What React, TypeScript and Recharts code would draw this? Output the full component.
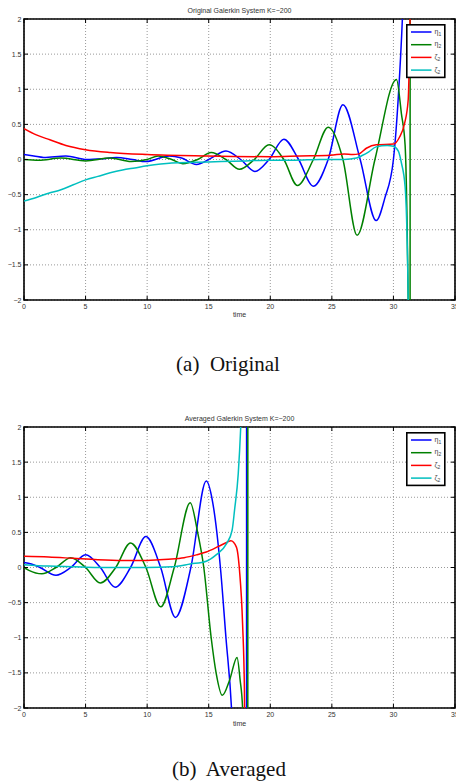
import React from "react";
import {
  LineChart,
  Line,
  XAxis,
  YAxis,
  CartesianGrid,
  ReferenceArea,
  Legend,
} from "recharts";

// axes
const xTicks = [0, 5, 10, 15, 20, 25, 30, 35];
const yTicks = [-2, -1.5, -1, -0.5, 0, 0.5, 1, 1.5, 2];

const seriesSymbols = ["η", "η", "ζ", "ζ"];
const seriesSubs = ["1", "2", "2", "2"];
const seriesColors = ["#0000ff", "#008000", "#ff0000", "#00bfbf"];

// (a) original Galerkin system
const origEta1T = [0, 0.8, 1.6, 3.4, 5.1, 6.3, 7.5, 8.8, 9.9, 11.8, 12.8, 14, 15.2, 16.4, 17.6, 18.75, 19.9, 21.1, 22.3, 23.5, 24.7, 25.9, 27.3, 28.6, 29.3, 30, 30.4, 30.75, 31.1];
const origEta1 = [0.07, 0.05, 0.03, 0.05, 0.0, 0.01, 0.03, 0.0, -0.03, 0.05, 0.02, -0.07, 0.02, 0.12, 0.0, -0.17, 0.0, 0.29, 0.0, -0.38, 0.0, 0.78, 0.0, -0.87, -0.55, 0.0, 0.9, 2.1, 4.0];

const origEta2T = [0, 1.2, 3, 5, 7, 8.7, 10, 10.9, 12, 12.9, 14.1, 15.2, 16.4, 17.5, 18.7, 19.9, 21.1, 22.2, 23.5, 24.7, 25.9, 27.05, 28.5, 30.25, 30.65, 30.95, 31.1, 31.2, 31.26, 31.33, 31.38];
const origEta2 = [0.0, -0.01, 0.02, -0.02, 0.02, -0.03, 0.0, 0.05, 0.0, -0.06, 0.0, 0.1, 0.0, -0.14, 0.0, 0.21, 0.0, -0.37, 0.0, 0.46, 0.0, -1.08, 0.0, 1.14, 0.65, 0.2, -0.8, -2.0, -3.0, -60, 60];

const origZetaT = [0, 1, 2.1, 3.4, 5, 7, 10, 14.8, 20, 22.4, 24.9, 26, 26.7, 27.2, 27.8, 28.6, 30, 30.5, 30.9, 31.2, 31.35, 31.5];
const origZeta = [0.44, 0.35, 0.28, 0.2, 0.14, 0.1, 0.07, 0.05, 0.04, 0.05, 0.06, 0.08, 0.07, 0.08, 0.16, 0.21, 0.22, 0.32, 0.51, 0.85, 2.0, 4.0];

const origXiT = [0, 1, 2, 3, 4, 5, 6, 7, 8, 9, 10, 12, 14, 16, 18, 20, 22, 24, 26, 27, 27.5, 28, 28.6, 29.5, 30, 30.4, 30.65, 30.95, 31.1, 31.2, 31.3];
const origXi = [-0.59, -0.54, -0.48, -0.43, -0.36, -0.29, -0.24, -0.19, -0.15, -0.12, -0.09, -0.05, -0.04, -0.03, -0.02, -0.01, -0.01, 0.0, 0.0, 0.02, 0.06, 0.11, 0.18, 0.2, 0.19, 0.12, -0.05, -0.39, -1.05, -2.0, -4.0];

// (b) averaged Galerkin system
const avgEta1T = [0, 0.6, 1.3, 2.6, 3.8, 5.0, 6.2, 7.4, 8.65, 9.9, 11.1, 12.3, 13.55, 14.8, 15.3, 15.95, 16.4, 16.85, 17.1, 18.05, 18.1];
const avgEta1 = [0.07, 0.05, 0.0, -0.11, 0.0, 0.18, 0.0, -0.28, 0.0, 0.44, 0.0, -0.71, 0.0, 1.23, 0.95, 0.0, -1.0, -2.0, -3.0, -60, 60];

const avgEta2T = [0, 0.4, 1.45, 2.6, 3.8, 5.0, 6.2, 7.45, 8.65, 9.9, 11.1, 12.2, 13.5, 14.1, 14.6, 15.2, 15.6, 16.1, 16.7, 17.3, 17.55, 17.75, 18.0, 18.15, 18.2];
const avgEta2 = [0.0, -0.04, -0.09, 0.0, 0.14, 0.0, -0.22, 0.0, 0.35, 0.0, -0.56, 0.0, 0.92, 0.5, 0.0, -1.0, -1.5, -1.82, -1.6, -1.28, -1.6, -2.0, -10, -60, 60];

const avgZetaT = [0, 2, 4, 6, 8, 10, 11, 12, 13, 14, 14.8, 15.8, 16.5, 16.8, 17.25, 17.5, 17.75, 17.9, 18.0];
const avgZeta = [0.16, 0.15, 0.13, 0.11, 0.1, 0.1, 0.11, 0.12, 0.14, 0.18, 0.22, 0.3, 0.36, 0.38, 0.29, -0.04, -0.8, -1.75, -4.0];

const avgXiT = [0, 2, 4, 6, 8, 10, 12, 13.5, 14.8, 15.6, 16.45, 16.9, 17.1, 17.4, 17.6, 17.8];
const avgXi = [0.04, 0.02, 0.01, 0.0, 0.0, 0.0, 0.01, 0.05, 0.09, 0.18, 0.34, 0.53, 0.82, 1.34, 2.0, 3.0];

const zip = (t: number[], v: number[]) => t.map((x, i) => ({ t: x, v: v[i] }));

const W = 456;
const H = 320;
const PL = 24;
const PR = 455;
const PT = 19;
const PB = 300;
const tickFont = "'Liberation Sans', Arial, sans-serif";

const fmt = (v: number) => String(v).replace("-", "\u2212");

const XTick = (props: any) => {
  const { x, payload } = props;
  return (
    <g>
      <line x1={x} x2={x} y1={PB} y2={PB - 4} stroke="#000" />
      <line x1={x} x2={x} y1={PT} y2={PT + 4} stroke="#000" />
      <text x={x} y={PB + 8.5} textAnchor="middle" fontSize={7} fill="#333" fontFamily={tickFont}>
        {fmt(payload.value)}
      </text>
    </g>
  );
};

const YTick = (props: any) => {
  const { y, payload } = props;
  return (
    <g>
      <line x1={PL} x2={PL + 4} y1={y} y2={y} stroke="#000" />
      <line x1={PR} x2={PR - 4} y1={y} y2={y} stroke="#000" />
      <text x={PL - 2.5} y={y + 2.5} textAnchor="end" fontSize={7} fill="#333" fontFamily={tickFont}>
        {fmt(payload.value)}
      </text>
    </g>
  );
};

const LegendBox = () => (
  <svg width={40} height={55}>
    <rect x={0.8} y={0.8} width={38} height={52.6} fill="#fff" stroke="#000" strokeWidth={1.6} />
    {seriesColors.map((c, i) => {
      const y = 8 + i * 12.7;
      return (
        <g key={i}>
          <line x1={5} x2={25.5} y1={y} y2={y} stroke={c} strokeWidth={1.5} />
          <text x={28.5} y={y + 1.5} fontSize={7} fill="#444" fontFamily={tickFont}>
            {seriesSymbols[i]}
            <tspan fontSize={5} dy={2}>
              {seriesSubs[i]}
            </tspan>
          </text>
        </g>
      );
    })}
  </svg>
);

const GalerkinChart = ({ series }: { series: { t: number; v: number }[][] }) => (
  <LineChart width={W} height={H} margin={{ top: PT, right: W - PR, bottom: H - PB - 1, left: PL - 1 }}>
    <CartesianGrid stroke="#999" strokeDasharray="1 2" />
    <XAxis
      type="number"
      dataKey="t"
      domain={[0, 35]}
      ticks={xTicks}
      interval={0}
      allowDataOverflow
      height={1}
      tickSize={0}
      axisLine={false}
      tickLine={false}
      tick={XTick}
    />
    <YAxis
      type="number"
      domain={[-2, 2]}
      ticks={yTicks}
      interval={0}
      allowDataOverflow
      width={1}
      tickSize={0}
      axisLine={false}
      tickLine={false}
      tick={YTick}
    />
    {series.map((pts, i) => (
      <Line
        key={i}
        data={pts}
        dataKey="v"
        name={seriesSymbols[i] + seriesSubs[i]}
        type="monotone"
        stroke={seriesColors[i]}
        strokeWidth={1.5}
        dot={false}
        isAnimationActive={false}
      />
    ))}
    <ReferenceArea x1={0} x2={35} y1={-2} y2={2} fill="none" stroke="#000" strokeWidth={1.6} />
    <Legend
      layout="vertical"
      align="center"
      verticalAlign="middle"
      wrapperStyle={{ left: 406, top: 24, width: 40, height: 55 }}
      content={LegendBox}
    />
  </LineChart>
);

export default function App() {
  const orig = [zip(origEta1T, origEta1), zip(origEta2T, origEta2), zip(origZetaT, origZeta), zip(origXiT, origXi)];
  const avg = [zip(avgEta1T, avgEta1), zip(avgEta2T, avgEta2), zip(avgZetaT, avgZeta), zip(avgXiT, avgXi)];
  return (
    <div style={{ position: "absolute", left: 0, top: 0, width: W, height: 783, background: "#fff", overflow: "hidden" }}>
      <svg width={W} height={783} style={{ position: "absolute", left: 0, top: 0 }}>
        <g fontFamily={tickFont} fontSize={7} fill="#333" textAnchor="middle">
          <text x={239.5} y={13}>{"Original Galerkin System K=\u2212200"}</text>
          <text x={239.5} y={316.5}>time</text>
          <text x={239.5} y={420.5}>{"Averaged Galerkin System K=\u2212200"}</text>
          <text x={239.5} y={725.5}>time</text>
        </g>
        <g fontFamily="'Liberation Serif', 'Times New Roman', serif" fontSize={21} fill="#111" textAnchor="middle">
          <text x={228} y={371} style={{ whiteSpace: "pre" }}>{"(a)  Original"}</text>
          <text x={229} y={776} style={{ whiteSpace: "pre" }}>{"(b)  Averaged"}</text>
        </g>
      </svg>
      <div style={{ position: "absolute", left: 0, top: 0 }}>
        <GalerkinChart series={orig} />
      </div>
      <div style={{ position: "absolute", left: 0, top: 408 }}>
        <GalerkinChart series={avg} />
      </div>
    </div>
  );
}
